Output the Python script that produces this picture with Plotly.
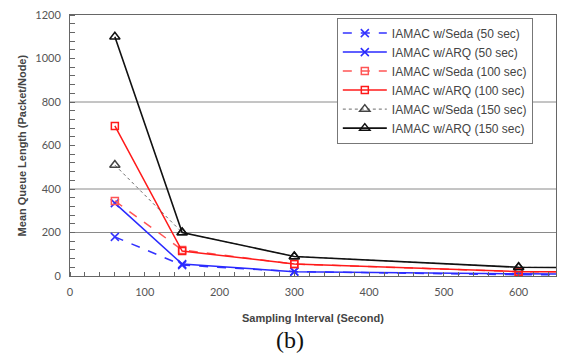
import plotly.graph_objects as go

x_vals = [60, 150, 300, 600, 900]
seda_50 = [180, 50, 20, 6, 5]
arq_50 = [335, 55, 20, 10, 8]
seda_100 = [345, 120, 55, 20, 16]
arq_100 = [690, 115, 55, 20, 16]
seda_150 = [510, 200, 90, 40, 34]
arq_150 = [1100, 200, 90, 40, 34]

x_ticks = [0, 100, 200, 300, 400, 500, 600]
y_ticks = [0, 200, 400, 600, 800, 1000, 1200]

names = ["IAMAC w/Seda (50 sec)", "IAMAC w/ARQ (50 sec)", "IAMAC w/Seda (100 sec)",
         "IAMAC w/ARQ (100 sec)", "IAMAC w/Seda (150 sec)", "IAMAC w/ARQ (150 sec)"]
series = [seda_50, arq_50, seda_100, arq_100, seda_150, arq_150]
styles = [
    dict(color="#3333ff", dash="dash", width=1.5, symbol="x-thin-open", msize=8),
    dict(color="#2a2aff", dash="solid", width=1.5, symbol="x-thin-open", msize=8),
    dict(color="#ff5555", dash="dash", width=1.5, symbol="square-open", msize=7),
    dict(color="#ff1a1a", dash="solid", width=1.5, symbol="square-open", msize=7),
    dict(color="#444444", dash="dot", width=0.8, symbol="triangle-up-open", msize=9),
    dict(color="#111111", dash="solid", width=1.6, symbol="triangle-up-open", msize=9),
]

fig = go.Figure()
for n, s, st in zip(names, series, styles):
    fig.add_trace(go.Scatter(
        x=x_vals, y=s, name=n, mode="lines+markers",
        line=dict(color=st["color"], dash=st["dash"], width=st["width"]),
        marker=dict(symbol=st["symbol"], size=st["msize"],
                    line=dict(color=st["color"], width=1.5), color=st["color"]),
    ))

for yv in [200, 400, 800]:
    fig.add_shape(type="line", xref="paper", x0=0, x1=1, yref="y", y0=yv, y1=yv,
                  line=dict(color="#8a8a8a", width=1), layer="below")

fig.update_layout(
    width=567, height=350,
    margin=dict(l=62, r=19, t=7, b=82),
    paper_bgcolor="white", plot_bgcolor="white",
    font=dict(family="Liberation Sans, Arial, sans-serif", color="#444"),
    showlegend=True,
    legend=dict(x=0.549, y=0.99, xanchor="left", yanchor="top",
                bgcolor="white", bordercolor="#777", borderwidth=1,
                itemwidth=44,
                font=dict(size=12, color="#444", family="Liberation Sans, Arial, sans-serif"),
                tracegroupgap=0),
    xaxis=dict(range=[0, 650], tickvals=x_ticks, automargin=False,
               showgrid=False, zeroline=False, showline=True, linecolor="#666",
               linewidth=1, mirror=True, ticks="", ticklabelstandoff=6,
               ticklabeloverflow="allow",
               tickfont=dict(size=11, color="#555", family="Lato, sans-serif"),
               minor=dict(dtick=20, ticks="inside", ticklen=4, tickcolor="#666", showgrid=False)),
    yaxis=dict(range=[0, 1200], tickvals=y_ticks, automargin=False,
               showgrid=False, zeroline=False, showline=True, linecolor="#666",
               linewidth=1, mirror=True, ticks="", ticklabelstandoff=6,
               ticklabeloverflow="allow",
               tickfont=dict(size=11, color="#555", family="Lato, sans-serif"),
               minor=dict(dtick=40, ticks="inside", ticklen=5, tickcolor="#666", showgrid=False)),
    annotations=[
        dict(text="<b>Sampling Interval (Second)</b>", xref="paper", yref="paper",
             x=0.5, y=-0.161, xanchor="center", yanchor="middle", showarrow=False,
             font=dict(size=11, color="#444")),
        dict(text="<b>Mean Queue Length (Packet/Node)</b>", xref="paper", yref="paper",
             x=-0.099, y=0.5, xanchor="center", yanchor="middle", showarrow=False,
             textangle=-90, font=dict(size=11, color="#444")),
        dict(text="(b)", xref="paper", yref="paper", x=0.453, y=-0.245,
             xanchor="center", yanchor="middle", showarrow=False,
             font=dict(family="Liberation Serif, Times New Roman, serif", size=24, color="#111")),
    ],
)

fig.write_html("out.html")
